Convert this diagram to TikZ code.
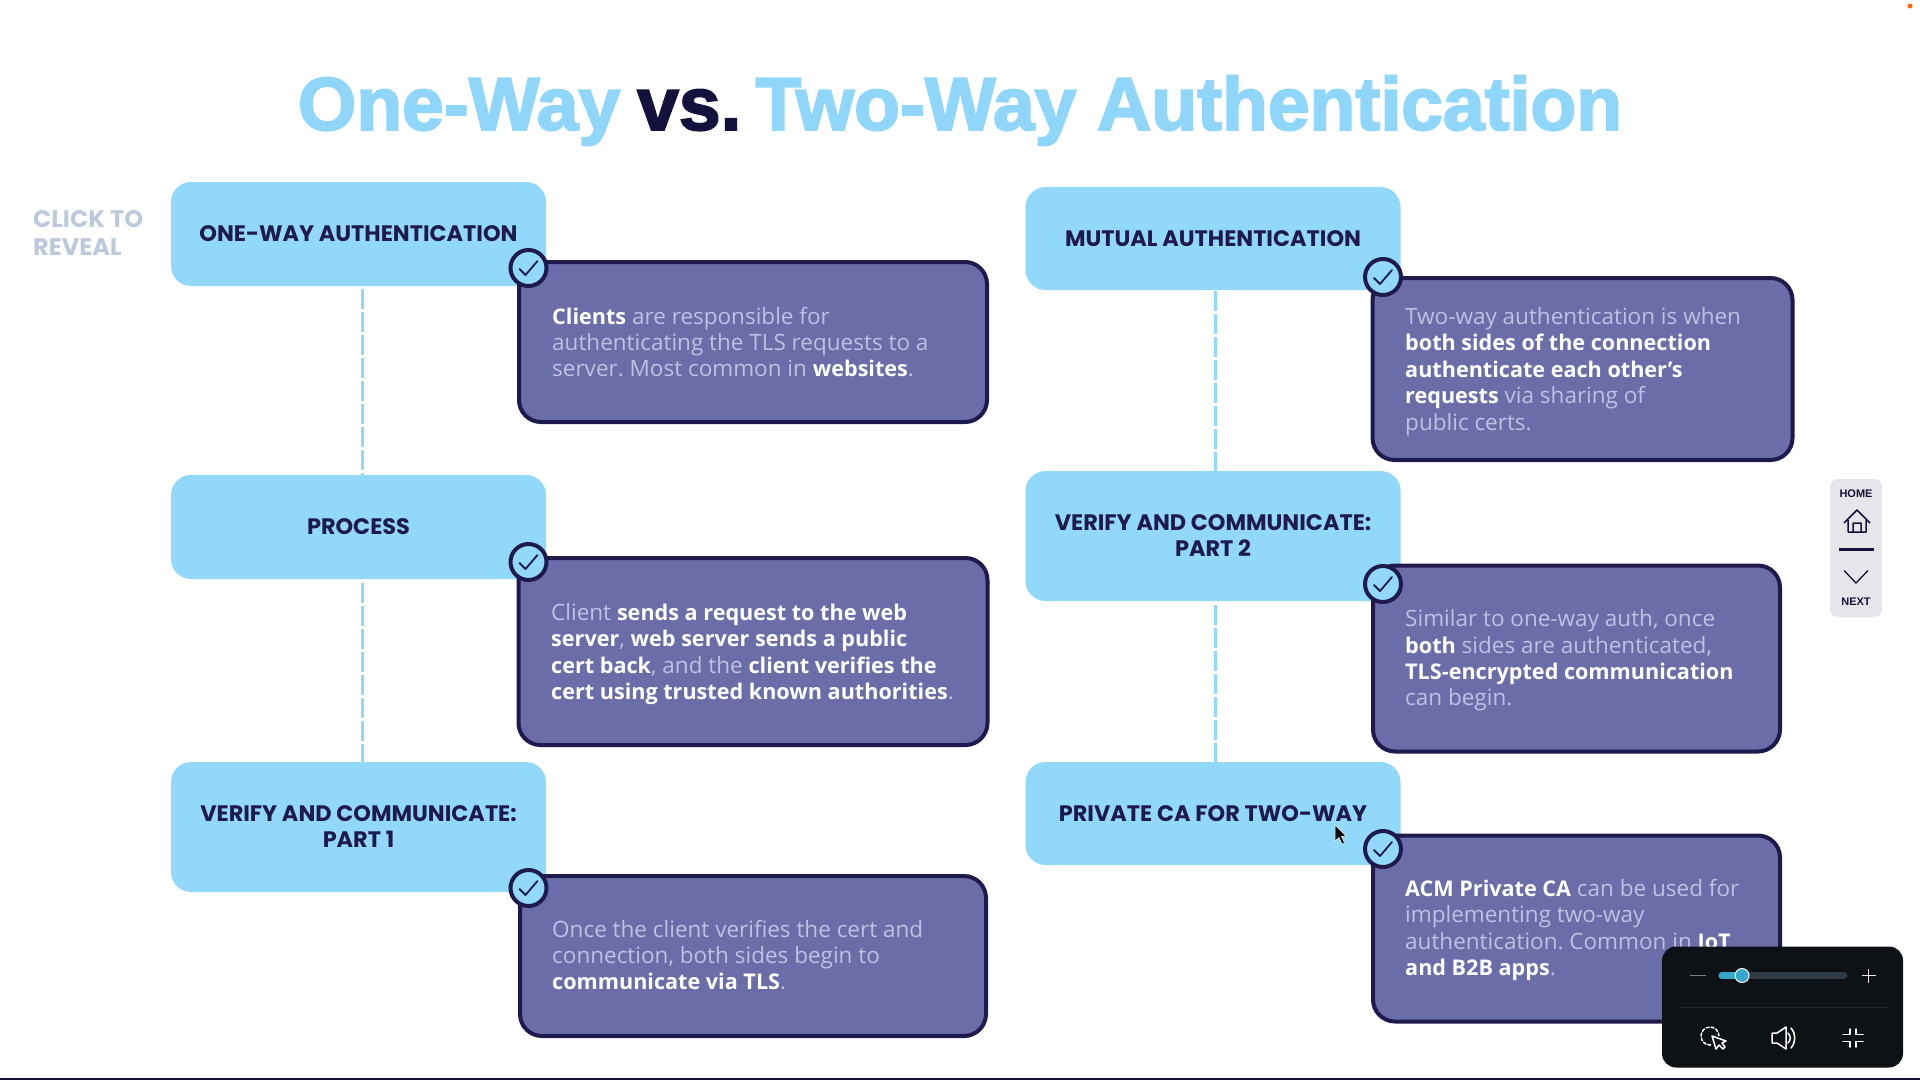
\documentclass[tikz,border=0pt]{standalone}
\usepackage{fontspec}
\usetikzlibrary{calc}
\setmainfont{Open Sans}
\newfontfamily\headfont{Poppins}
\newfontfamily\titlefont{Liberation Sans}[BoldFeatures={FakeBold=2.5}]
\newfontfamily\uifont{Liberation Sans}
\definecolor{skybox}{HTML}{92D8FA}
\definecolor{purplebox}{HTML}{6B6DA8}
\definecolor{navy}{HTML}{1E1A4E}
\definecolor{mutedtext}{HTML}{BFC0E2}
\definecolor{revealgray}{HTML}{BCC9DC}
\definecolor{titleblue}{HTML}{8FD6FA}
\definecolor{titledark}{HTML}{14123D}
\definecolor{panelgray}{HTML}{E6E6EA}
\definecolor{darkpanel}{HTML}{0E1116}
\definecolor{trackgray}{HTML}{2F3A44}
\definecolor{trackblue}{HTML}{35A7C9}
\newcommand{\hl}[1]{{\fontsize{21.6pt}{26.4pt}\selectfont\bfseries\color{white}#1}}
\tikzset{
  lightbox/.style={fill=skybox,rounded corners=20pt,minimum width=375pt,inner sep=0pt,outer sep=0pt,align=center,
    text=navy,font=\headfont\bfseries\fontsize{22.4pt}{26pt}\selectfont},
  darkbox/.style={fill=purplebox,draw=navy,line width=4pt,rounded corners=22pt,inner sep=0pt,outer sep=0pt},
  bodytext/.style={anchor=west,align=left,inner sep=0pt,text=mutedtext,font=\fontsize{22.5pt}{26.4pt}\selectfont\frenchspacing},
  tickmark/.style={circle,fill=skybox,draw=navy,line width=4pt,minimum size=36pt,inner sep=0pt},
  tickline/.style={draw=navy,line width=1.8pt,line cap=round,line join=round},
  conn/.style={draw=skybox,line width=3pt,dash pattern=on 20pt off 3pt},
  uilabel/.style={font=\uifont\bfseries\fontsize{11pt}{12pt}\selectfont,text=titledark,inner sep=0pt},
  uiline/.style={draw=white,line width=1.5pt,line cap=round,line join=round},
}
\begin{document}
\begin{tikzpicture}[x=1pt,y=-1pt]
\useasboundingbox (0,0) rectangle (1920,1080);
\fill[white] (0,0) rectangle (1920,1080);
\fill[orange!80!red] (1910,6) circle (2.5pt);
\node[inner sep=0pt,font=\titlefont\bfseries\fontsize{75pt}{80pt}\selectfont] (title) at (960,110.5)
  {\textcolor{titleblue}{One-Way}\hspace{17pt}\textcolor{titledark}{vs.}\hspace{14pt}\textcolor{titleblue}{Two-Way Authentication}};
\node[anchor=west,inner sep=0pt,align=left,text=revealgray,font=\headfont\bfseries\fontsize{24pt}{28.5pt}\selectfont] (reveal) at (33,233) {CLICK TO\\REVEAL};

% header boxes
\node[lightbox,minimum height=104pt] (a1) at (358.5,234) {ONE-WAY AUTHENTICATION};
\node[lightbox,minimum height=104pt] (a2) at (358.5,527) {PROCESS};
\node[lightbox,minimum height=130pt] (a3) at (358.5,827) {VERIFY AND COMMUNICATE:\\PART 1};
\node[lightbox,minimum height=103pt] (b1) at (1213,238.5) {MUTUAL AUTHENTICATION};
\node[lightbox,minimum height=130pt] (b2) at (1213,536) {VERIFY AND COMMUNICATE:\\PART 2};
\node[lightbox,minimum height=103pt] (b3) at (1213,813.5) {PRIVATE CA FOR TWO-WAY};

% connectors
\draw[conn] ([xshift=3.5pt,yshift=-3pt]a1.south) -- ([xshift=3.5pt]a2.north);
\draw[conn] ([xshift=3.5pt,yshift=-4pt]a2.south) -- ([xshift=3.5pt]a3.north);
\draw[conn] ([xshift=2pt,yshift=-1pt]b1.south) -- ([xshift=2pt]b2.north);
\draw[conn] ([xshift=2pt,yshift=-4pt]b2.south) -- ([xshift=2pt]b3.north);

\node[darkbox,minimum width=468pt,minimum height=160pt] (p1) at (753,342) {};
\node[darkbox,minimum width=469pt,minimum height=187pt] (p2) at (753,651.5) {};
\node[darkbox,minimum width=466pt,minimum height=160pt] (p3) at (753,956) {};
\node[darkbox,minimum width=420pt,minimum height=182pt] (q1) at (1582.5,369) {};
\node[darkbox,minimum width=407pt,minimum height=186pt] (q2) at (1576.5,658.5) {};
\node[darkbox,minimum width=407pt,minimum height=186pt] (q3) at (1576.5,928.5) {};

\node[bodytext] (t1) at (552,342) {\hl{Clients} are responsible for\\authenticating the TLS requests to a\\server. Most common in \hl{websites}.};
\node[bodytext] (t2) at (551,654) {Client \hl{sends a request to the web}\\\hl{server}, \hl{web server sends a public}\\\hl{cert back}, and the \hl{client verifies the}\\\hl{cert using trusted known authorities}.};
\node[bodytext] (t3) at (552,955) {Once the client verifies the cert and\\connection, both sides begin to\\\hl{communicate via TLS}.};
\node[bodytext] (u1) at (1405,371.5) {Two-way authentication is when\\\hl{both sides of the connection}\\\hl{authenticate each other's}\\\hl{requests} via sharing of\\public certs.};
\node[bodytext] (u2) at (1405,660.5) {Similar to one-way auth, once\\\hl{both} sides are authenticated,\\\hl{TLS-encrypted communication}\\can begin.};
\node[bodytext] (u3) at (1405,930) {\hl{ACM Private CA} can be used for\\implementing two-way\\authentication. Common in \hl{IoT}\\\hl{and B2B apps}.};

\foreach \n/\px/\py in {c1/528.5/268,c2/528.5/562,c3/528.5/888,d1/1383/277,d2/1383/584,d3/1383/849}{
  \node[tickmark] (\n) at (\px,\py) {};
  \draw[tickline] ([shift={(-9,1)}]\n.center) -- ([shift={(-3,7)}]\n.center) -- ([shift={(9,-7)}]\n.center);
}

% mouse pointer
\fill[black,draw=white,line width=.5pt] (1335,825) -- (1335,841) -- (1339,837.5) -- (1342,844) -- (1344.5,843) -- (1341.5,836.5) -- (1346,836) -- cycle;

% navigation panel
\node[fill=panelgray,rounded corners=8pt,minimum width=52pt,minimum height=138pt,inner sep=0pt] (nav) at (1856,548) {};
\node[uilabel] (home) at (1856,494) {HOME};
\node[uilabel] (next) at (1856,602) {NEXT};
\draw[titledark,line width=1.5pt,line join=round] (1844,523) -- (1857,510) -- (1870,523)
  (1848,520) -- (1848,532) -- (1866,532) -- (1866,520)
  (1853,532) -- (1853,523) -- (1861,523) -- (1861,532);
\draw[titledark,line width=3.5pt] (1839,549.5) -- (1874,549.5);
\draw[titledark,line width=1.3pt] (1844,570.5) -- (1856,583) -- (1868,570.5);

% media panel
\node[fill=darkpanel,rounded corners=14pt,minimum width=241pt,minimum height=121pt,inner sep=0pt] (media) at (1782.5,1007) {};
\draw[gray,line width=1.5pt] (1690,975.5) -- (1706,975.5);
\draw[white!80!gray,line width=1.5pt] (1861.5,975.5) -- (1875.5,975.5) (1868.5,968.5) -- (1868.5,982.5);
\draw[trackgray,line width=7pt,line cap=round] (1722,975.5) -- (1844,975.5);
\draw[trackblue,line width=7pt,line cap=round] (1722,975.5) -- (1742,975.5);
\fill[trackblue,draw=white,line width=1pt] (1742,975.5) circle (7pt);
\draw[trackgray!70!black,line width=.7pt] (1679,1007) -- (1888,1007);
\draw[uiline,dash pattern=on 3pt off 2pt] (1710,1036) circle (9pt);
\fill[darkpanel] (1711,1036) rectangle (1725,1050);
\draw[uiline] (1712,1036) -- (1716,1049) -- (1719,1045) -- (1723,1049) -- (1725,1047) -- (1722,1043) -- (1726,1041) -- cycle;
\draw[uiline] (1772,1033) -- (1777,1033) -- (1786,1027) -- (1786,1049) -- (1777,1043) -- (1772,1043) -- cycle;
\draw[uiline] (1788,1033) .. controls (1791,1036) and (1791,1040) .. (1788,1043)
  (1791,1028) .. controls (1796,1034) and (1796,1042) .. (1791,1048);
\draw[uiline] (1843,1034.5) -- (1850,1034.5) -- (1850,1029) (1863,1034.5) -- (1856,1034.5) -- (1856,1029)
  (1843,1041.5) -- (1850,1041.5) -- (1850,1047) (1863,1041.5) -- (1856,1041.5) -- (1856,1047);

% bottom rule
\draw[titledark,line width=1.5pt] (0,1079) -- (1920,1079);
\end{tikzpicture}
\end{document}
